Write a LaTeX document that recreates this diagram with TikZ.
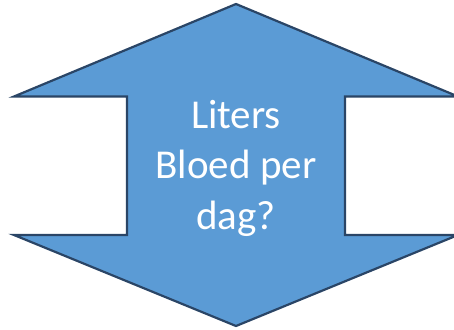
\documentclass[tikz,border=0pt]{standalone}
\usepackage{fontspec}
\setmainfont{Carlito}
\definecolor{arrowfill}{HTML}{5B9BD5}
\definecolor{arrowline}{HTML}{2A4566}

\begin{document}
\begin{tikzpicture}
[every node/.style={inner sep=0pt}]
\useasboundingbox (0pt, 0pt) rectangle (454pt, -329pt);
\draw [line width=2.2pt, fill=arrowfill, draw=arrowline, line join=miter] (236pt, -4pt) -- (458pt, -96.5pt) -- (345pt, -96.5pt) -- (345pt, -235pt) -- (458pt, -235pt) -- (236pt, -326pt) -- (14pt, -235pt) -- (127pt, -235pt) -- (127pt, -96.5pt) -- (14pt, -96.5pt) -- cycle;
\node (q) [align=center, font=\fontsize{41pt}{50.5pt}\selectfont, text=white, anchor=base] at (236pt, -229pt) {Liters\\Bloed per\\dag?};
\end{tikzpicture}
\end{document}
